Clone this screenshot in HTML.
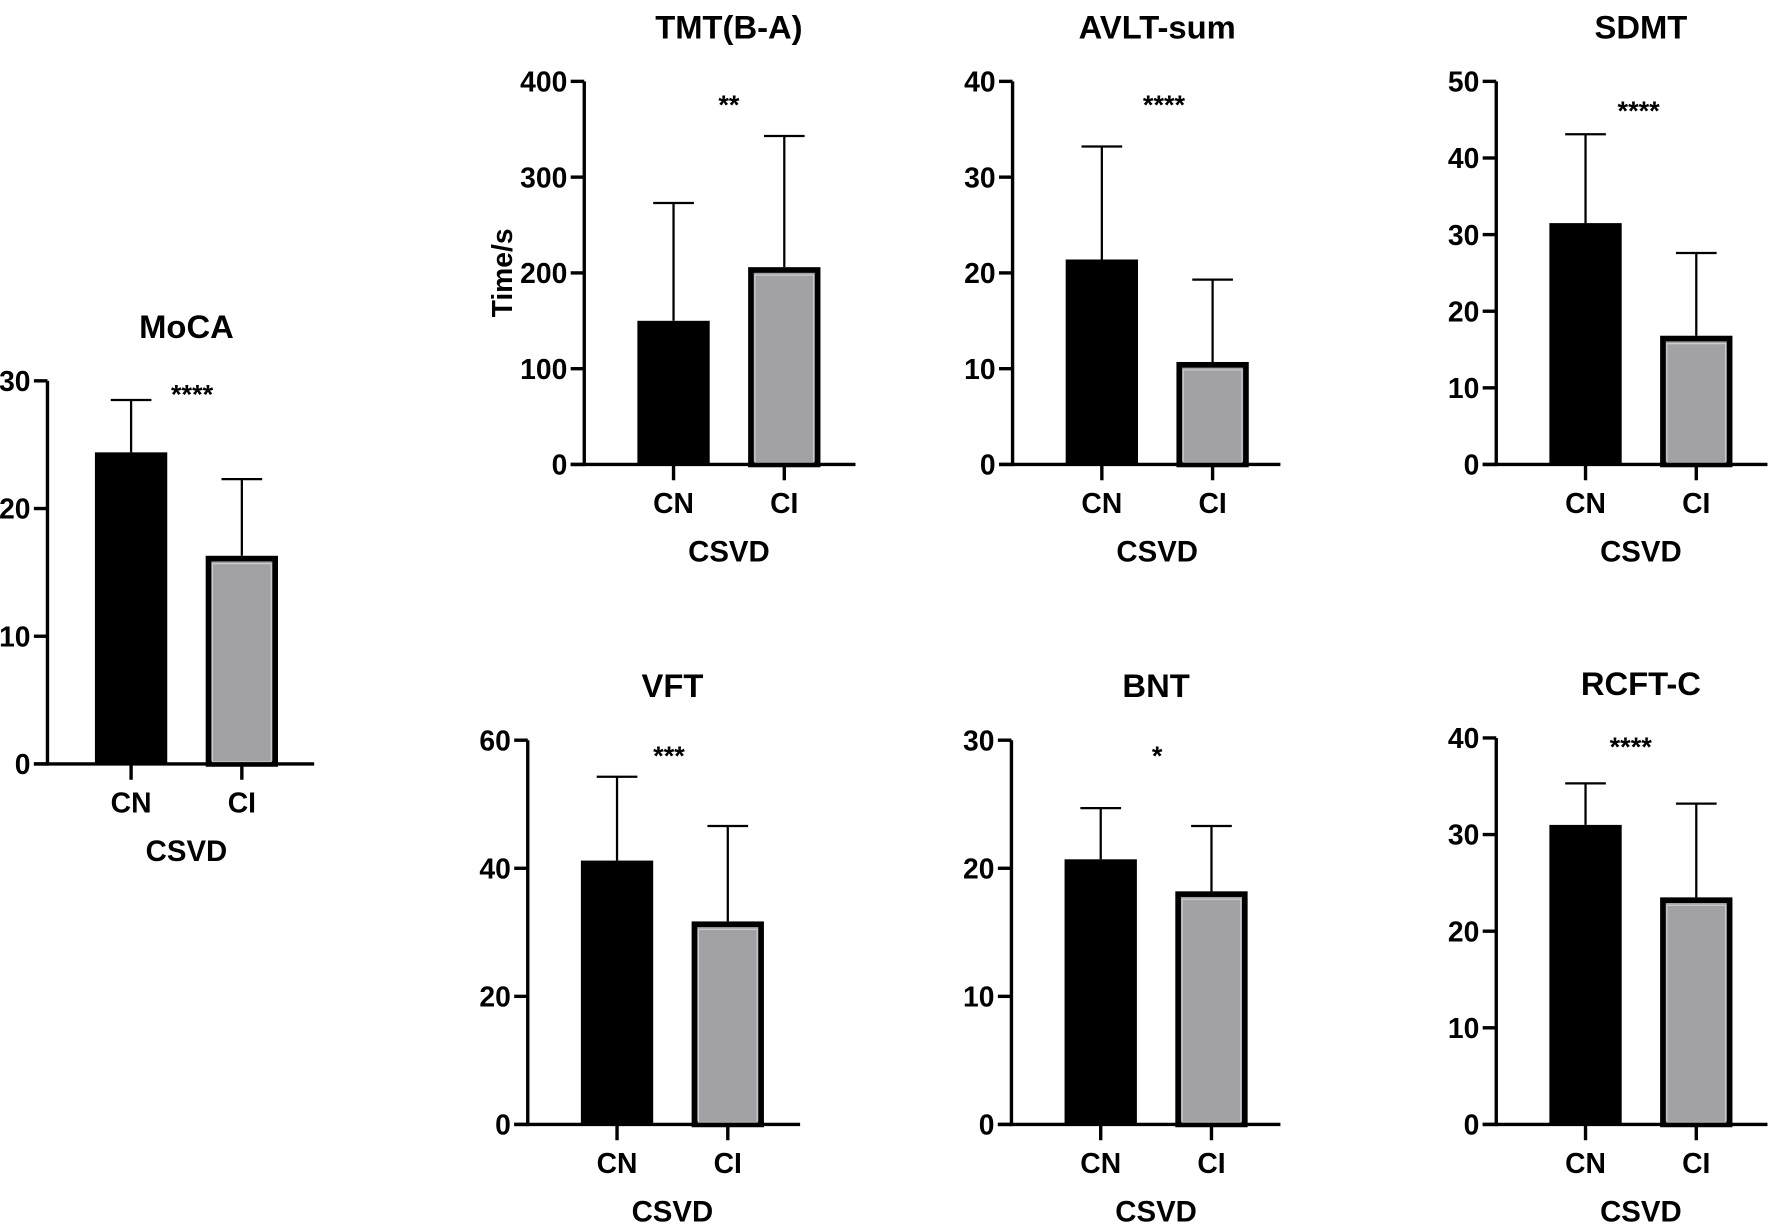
<!DOCTYPE html>
<html><head><meta charset="utf-8"><style>
html,body{margin:0;padding:0;background:#fff;}
svg{display:block;font-family:"Liberation Sans",Arial,sans-serif;font-weight:bold;}
</style></head><body>
<svg id="fig" width="1772" height="1225" viewBox="0 0 1568 1084" preserveAspectRatio="none" xmlns="http://www.w3.org/2000/svg"></svg>
<script>
// data arrays
const panelTitles = ["MoCA","TMT(B-A)","AVLT-sum","SDMT","VFT","BNT","RCFT-C"];
const categories = ["CN","CI"];
const cnMeans = [24.4,150,21.4,31.5,41.2,20.7,31.0];
const ciMeans = [16.3,206,10.7,16.8,31.7,18.2,23.5];
const cnErrTop = [28.5,273,33.2,43.1,54.3,24.7,35.3];
const ciErrTop = [22.3,343,19.3,27.6,46.6,23.3,33.2];
const yMax = [30,400,40,50,60,30,40];
const yStep = [10,100,10,10,20,10,10];
const sigLabels = ["****","**","****","****","***","*","****"];
const yTitles = ["","Time/s","","","","",""];

// layout (not data)
const layout = [
 {ax:42, top:337, zero:676, xr:278, starY:357, off:74, sx:170},
 {ax:517, top:72, zero:411, xr:757, starY:101, off:79, sx:645},
 {ax:896, top:72, zero:411, xr:1133, starY:101, off:79, sx:1030},
 {ax:1324, top:72, zero:411, xr:1564, starY:106, off:79, sx:1450},
 {ax:467, top:655, zero:995, xr:708, starY:677, off:79, sx:592},
 {ax:895, top:655, zero:995, xr:1133, starY:677, off:79, sx:1024},
 {ax:1324, top:653, zero:995, xr:1564, starY:669, off:79, sx:1443}
];
const NS="http://www.w3.org/2000/svg";
const svg=document.getElementById('fig');
function mk(tag,attrs,parent){const e=document.createElementNS(NS,tag);for(const k in attrs)e.setAttribute(k,attrs[k]);(parent||svg).appendChild(e);return e;}

panelTitles.forEach((t,i)=>{
  const L=layout[i];
  const g=mk('g',{});
  
  
  const y=v=>L.zero-(v/yMax[i])*(L.zero-L.top);
  const cx=[L.ax+L.off, L.ax+L.off+98];
  const bw=64;
  const mid=(cx[0]+cx[1])/2;
  const tt=mk('text',{x:mid,y:L.top-38,'text-anchor':'middle','font-size':29},g);
  tt.textContent=t;
  
  
  const means=[cnMeans[i],ciMeans[i]], errs=[cnErrTop[i],ciErrTop[i]];
  means.forEach((m,j)=>{
    const el=mk('line',{x1:cx[j],x2:cx[j],y1:y(m),y2:y(errs[j]),stroke:'#000','stroke-width':2},g);
    
    
    mk('line',{x1:cx[j]-18,x2:cx[j]+18,y1:y(errs[j]),y2:y(errs[j]),stroke:'#000','stroke-width':2},g);
    let r;
    if(j===0){
      r=mk('rect',{x:cx[j]-bw/2,y:y(m),width:bw,height:L.zero-y(m),fill:'#000'},g);
    } else {
      r=mk('rect',{x:cx[j]-bw/2+2.5,y:y(m)+2.5,width:bw-5,height:L.zero-y(m)-2.5,fill:'#a2a2a6',stroke:'#000','stroke-width':5},g);
      mk('rect',{x:cx[j]-bw/2+6,y:y(m)+7,width:bw-12,height:L.zero-y(m)-9,fill:'none',stroke:'#cfcfd3','stroke-width':1},g);
    }
    
    
    mk('line',{x1:cx[j],x2:cx[j],y1:L.zero,y2:L.zero+14,stroke:'#000','stroke-width':3},g);
    const xl=mk('text',{x:cx[j],y:L.zero+43,'text-anchor':'middle','font-size':25},g);
    xl.textContent=categories[j];
    
    
  });
  const ya=mk('line',{x1:L.ax,x2:L.ax,y1:L.top,y2:L.zero+1.5,stroke:'#000','stroke-width':3},g);
  
  
  const xa=mk('line',{x1:L.ax-12,x2:L.xr,y1:L.zero,y2:L.zero,stroke:'#000','stroke-width':3},g);
  
  
  for(let v=0; v<=yMax[i]+1e-9; v+=yStep[i]){
    mk('line',{x1:L.ax-12,x2:L.ax,y1:y(v),y2:y(v),stroke:'#000','stroke-width':3},g);
    const tl=mk('text',{x:L.ax-15,y:y(v)+9,'text-anchor':'end','font-size':25},g);
    tl.textContent=v;
    
    
  }
  const st=mk('text',{x:L.sx,y:L.starY,'text-anchor':'middle','font-size':24},g);
  st.textContent=sigLabels[i];
  
  
  const xt=mk('text',{x:mid,y:L.zero+86,'text-anchor':'middle','font-size':26},g);
  xt.textContent='CSVD';
  
  
  if(yTitles[i]){
    const yt=mk('text',{x:0,y:0,'text-anchor':'middle','font-size':25,transform:`translate(${L.ax-64},${(L.top+L.zero)/2}) rotate(-90)`},g);
    yt.textContent=yTitles[i];
    
    
  }
});
</script>
</body></html>
